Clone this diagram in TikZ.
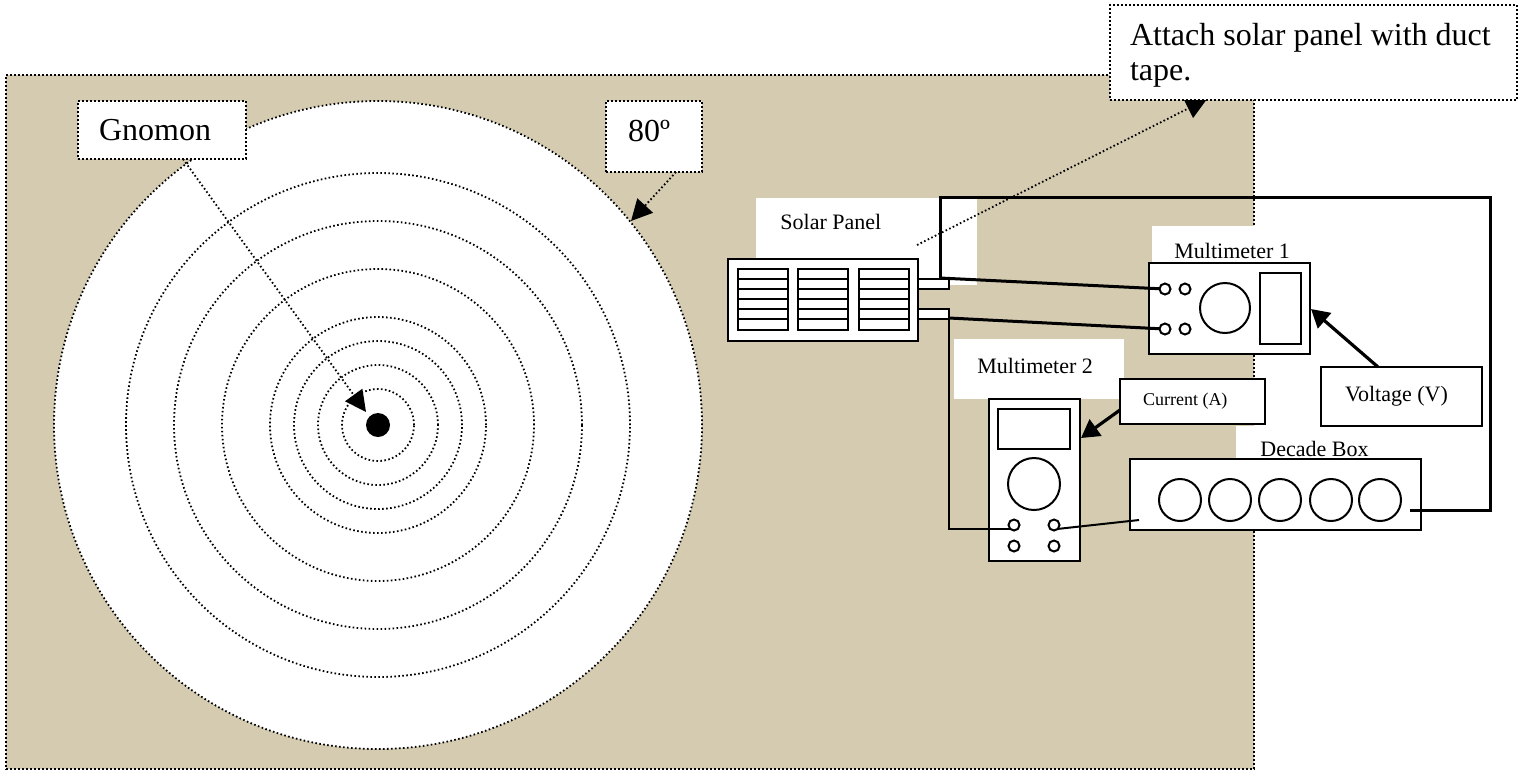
\documentclass[tikz,border=0pt]{standalone}
\usepackage{fontspec}
\setmainfont{Liberation Serif}
\usetikzlibrary{arrows.meta, positioning}
\definecolor{Tan}{RGB}{212, 203, 176}

\begin{document}
\begin{tikzpicture}[
    x=0.5pt, y=-0.5pt,
    dots/.style={line width=0.9pt, dash pattern=on 0.8pt off 1.2pt},
    ring/.style={circle, draw, dots, inner sep=0pt, outer sep=0pt},
    patch/.style={rectangle, fill=white, anchor=north west, inner sep=0pt, outer sep=0pt},
    callout/.style={patch, draw, dots, align=flush left, font=\fontsize{16}{17.5}\selectfont},
    instrument/.style={patch, draw, line width=1.1pt},
    tag/.style={patch, draw, line width=1.3pt, align=flush left, font=\fontsize{11}{13}\selectfont},
    port/.style={circle, draw, fill=white, line width=1pt, inner sep=0pt, outer sep=0pt, minimum size=5.5pt},
    dial/.style={circle, draw, fill=white, line width=1pt, inner sep=0pt, outer sep=0pt},
    caption/.style={anchor=base west, inner sep=0pt, font=\fontsize{11}{13}\selectfont},
    wire/.style={line width=1pt},
    heavywire/.style={line width=1.5pt},
    pointer/.style={dots, -{Triangle[length=10.5pt, width=10.5pt]}},
    heavypointer/.style={line width=1.6pt, -{Triangle[length=9pt, width=10pt]}}
]
\useasboundingbox (0,0) rectangle (1525,773);

% Board and target
\node[patch, fill=Tan, draw=black, dots, minimum width=624pt, minimum height=347pt] (board) at (6,75) {};
\node[ring, fill=white, minimum size=324pt] (target) at (378,425) {};
\foreach \r in {252,204,156,108,84,60,36}
    \node[ring, minimum size=\r pt] (ring\r) at (target) {};
\node[circle, fill=black, inner sep=0pt, minimum size=12pt] (hole) at (target) {};

% White patches behind the captions
\node[patch, minimum width=110.5pt, minimum height=43.5pt] (solarpatch) at (756,198) {};
\node[patch, minimum width=74pt, minimum height=64pt] (meteronepatch) at (1152,226) {};
\node[patch, minimum width=85pt, minimum height=30pt] (metertwopatch) at (954,339) {};
\node[patch, minimum width=92pt, minimum height=17pt] (decadepatch) at (1236,426) {};

% Free ends
\coordinate (gnomonfrom) at (183,159);
\coordinate (gnomontip) at (366,412);
\coordinate (anglefrom) at (676,172);
\coordinate (angletip) at (631,221);
\coordinate (tapefrom) at (917,245);
\coordinate (tapetip) at (1207,99);
\coordinate (wirefromtop) at (940,278);
\coordinate (wirefrombottom) at (949,318);
\coordinate (loopright) at (1490,197);
\coordinate (loopout) at (1410,510);
\coordinate (decadein) at (1139,520);
\coordinate (voltagefrom) at (1378,367);
\coordinate (voltagetip) at (1311,309);
\coordinate (currentfrom) at (1120,410);
\coordinate (currenttip) at (1081,438);

% Solar panel
\node[instrument, minimum width=95pt, minimum height=41pt] (panel) at (728,259) {};
\foreach \x in {738,798,859} {
    \node[patch, draw, line width=1.2pt, minimum width=25pt, minimum height=30.5pt] (cell\x) at (\x,269) {};
    \foreach \y in {279,289,299,309,319}
        \draw[line width=1.2pt] (\x,\y) -- ++(50,0);
}
\node[patch, draw, line width=1.1pt, minimum width=15.5pt, minimum height=5pt] (tabtop) at (918,279) {};
\node[patch, draw, line width=1.1pt, minimum width=15.5pt, minimum height=5pt] (tabbottom) at (918,309) {};
\node[caption] (solarlabel) at (780,229) {Solar Panel};

% Multimeter 1
\node[instrument, minimum width=80.5pt, minimum height=45.5pt] (meterone) at (1149,263) {};
\node[port] (oneA) at (1165,289) {};
\node[port] (oneB) at (1185,289) {};
\node[port] (oneC) at (1165,329) {};
\node[port] (oneD) at (1185,329) {};
\node[dial, minimum size=25pt] (onedial) at (1225,308) {};
\node[patch, draw, line width=1.2pt, minimum width=20.5pt, minimum height=35.5pt] (onescreen) at (1260,273) {};
\node[caption] (onelabel) at (1174,258) {Multimeter 1};

% Multimeter 2
\node[instrument, minimum width=45.5pt, minimum height=81pt] (metertwo) at (989,399) {};
\node[port] (twoA) at (1014,525) {};
\node[port] (twoB) at (1054,525) {};
\node[port] (twoC) at (1014,546) {};
\node[port] (twoD) at (1054,546) {};
\node[dial, minimum size=26pt] (twodial) at (1034,484) {};
\node[patch, draw, line width=1.2pt, minimum width=36pt, minimum height=20pt] (twoscreen) at (998,409) {};
\node[caption] (twolabel) at (977,373) {Multimeter 2};

% Decade box
\node[instrument, minimum width=145.5pt, minimum height=35.5pt] (decade) at (1130,459) {};
\foreach \x in {1180,1230,1280,1331,1380}
    \node[dial, minimum size=21pt] (knob\x) at (\x,500) {};
\node[caption] (decadelabel) at (1260,456) {Decade Box};

% Wires
\draw[heavywire] (wirefromtop) -- (oneA);
\draw[heavywire] (wirefrombottom) -- (oneC);
\draw[heavywire] (wirefromtop) |- (loopright) |- (loopout);
\draw[wire] (wirefrombottom) |- (twoA.225);
\draw[wire] (twoB.-45) -- (decadein);

% Pointers
\draw[pointer] (gnomonfrom) -- (gnomontip);
\draw[pointer] (anglefrom) -- (angletip);
\draw[pointer] (tapefrom) -- (tapetip);

% Callouts
\node[callout, minimum height=29pt, inner xsep=10.5pt, text width=63pt] (gnomon) at (78,101) {Gnomon};
\node[callout, minimum height=35.5pt, inner xsep=11pt, text width=26pt, text depth=6pt] (angle) at (606,101) {80º};
\node[callout, minimum height=47.5pt, inner xsep=10pt, text width=183.5pt, text height=14pt] (tape) at (1110,5) {Attach solar panel with duct tape.};
\node[tag, minimum height=29.5pt, inner xsep=12pt, text width=56.5pt, text depth=3pt] (voltage) at (1321,367) {Voltage (V)};
\node[tag, font=\fontsize{9}{11}\selectfont, minimum height=22.5pt, inner xsep=11.5pt, text width=49.5pt] (current) at (1120,379) {Current (A)};
\draw[heavypointer] (voltagefrom) -- (voltagetip);
\draw[heavypointer] (currentfrom) -- (currenttip);

\end{tikzpicture}
\end{document}
